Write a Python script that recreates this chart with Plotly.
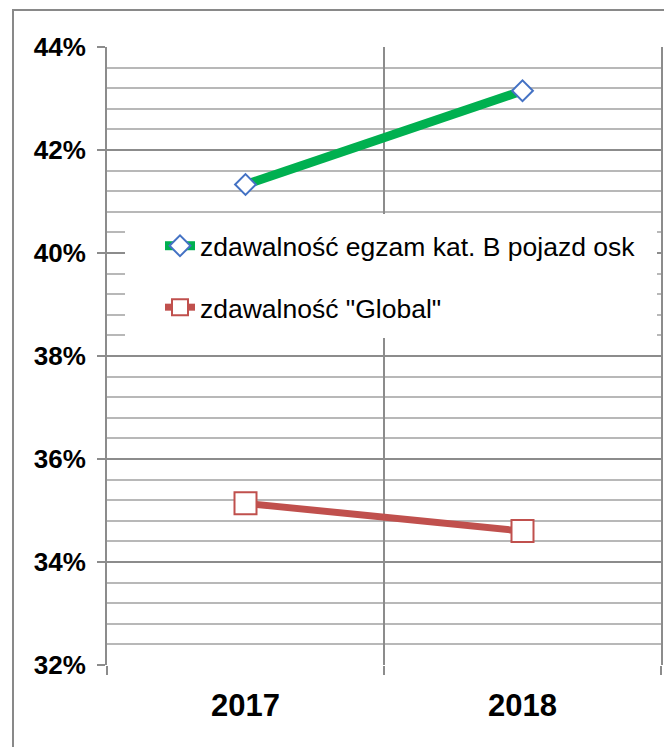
import plotly.graph_objects as go

years = ["2017", "2018"]
osk_pass = [0.4133, 0.4315]
global_pass = [0.3514, 0.3460]
series_names = ['zdawalność egzam kat. B pojazd osk', 'zdawalność "Global"']

# page has an 8px body margin; figure sized so it ends at the window edge
OFF = 8
W, H = 672 - OFF, 747 - OFF
L, T = 107 - OFF, 47 - OFF
R = W - (661 - OFF)
B = H - (665 - OFF)
pw, ph = W - L - R, H - T - B

def px_x(x):  # page pixel -> paper x
    return (x - OFF - L) / pw

def px_y(y):  # page pixel -> paper y
    return (H - B - (y - OFF)) / ph

fig = go.Figure()
fig.add_trace(go.Scatter(
    x=years, y=osk_pass, name=series_names[0], mode="lines+markers",
    legendgroup="a",
    line=dict(color="#00B050", width=9),
    marker=dict(symbol="diamond", size=16, color="white", line=dict(color="#4472C4", width=2)),
))
fig.add_trace(go.Scatter(
    x=years, y=global_pass, name=series_names[1], mode="lines+markers",
    legendgroup="b",
    line=dict(color="#C0504D", width=7),
    marker=dict(symbol="square", size=22, color="white", line=dict(color="#C0504D", width=2)),
))

fig.update_layout(
    width=W, height=H,
    margin=dict(l=L, r=R, t=T, b=B, autoexpand=False),
    paper_bgcolor="white", plot_bgcolor="white",
    font=dict(family="Liberation Sans, Arial", color="black"),
    legend=dict(
        x=px_x(160), y=px_y(222), xanchor="left", yanchor="top",
        bgcolor="rgba(0,0,0,0)", font=dict(size=26.5, family="Liberation Sans, Arial"),
        traceorder="grouped", tracegroupgap=24, itemsizing="trace",
    ),
    shapes=[
        dict(type="rect", xref="paper", yref="paper",
             x0=px_x(125), x1=px_x(657), y0=px_y(338), y1=px_y(214),
             fillcolor="white", line=dict(width=0), layer="above"),
        dict(type="rect", xref="paper", yref="paper",
             x0=px_x(13), x1=px_x(700), y0=px_y(780), y1=px_y(10),
             fillcolor="rgba(0,0,0,0)", line=dict(color="#898989", width=2), layer="below"),
    ],
)

fig.update_xaxes(
    type="category", range=[-0.5, 1.5], autorange=False, automargin=False,
    tickson="boundaries", ticks="outside", ticklen=9,
    tickcolor="#8c8c8c", tickwidth=2,
    showgrid=True, gridcolor="#8c8c8c", gridwidth=2,
    showline=False, zeroline=False,
    tickfont=dict(size=31, family="Liberation Sans, Arial", weight="bold"),
    ticklabelstandoff=19,
)
fig.update_yaxes(
    range=[0.32, 0.44], autorange=False, automargin=False,
    dtick=0.02, tickformat=".0%",
    ticks="outside", ticklen=8, tickcolor="#8c8c8c", tickwidth=2,
    showgrid=True, gridcolor="#8c8c8c", gridwidth=2,
    showline=True, linecolor="#8c8c8c", linewidth=2, mirror=True,
    zeroline=False,
    minor=dict(dtick=0.004, showgrid=True, gridcolor="#b8b8b8", gridwidth=2),
    tickfont=dict(size=26, family="Liberation Sans, Arial", weight="bold"),
    ticklabelstandoff=6,
)

fig.write_html("out.html")
